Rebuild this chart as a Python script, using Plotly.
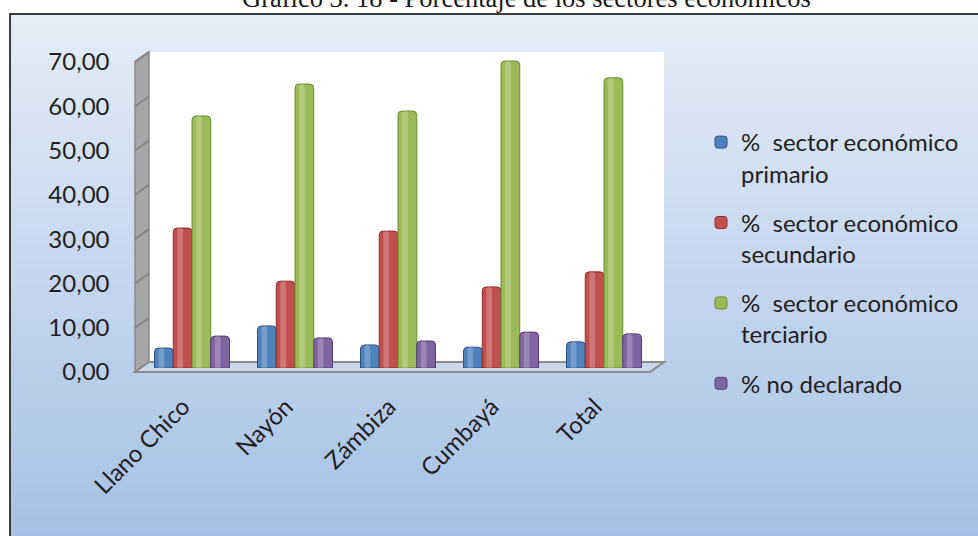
import plotly.graph_objects as go

# ---- data -------------------------------------------------------------
categorias = ["Llano Chico", "Nayón", "Zámbiza", "Cumbayá", "Total"]
primario = [4.5, 9.5, 5.2, 4.7, 5.9]
secundario = [31.6, 19.6, 30.9, 18.3, 21.7]
terciario = [56.9, 64.1, 58.0, 69.3, 65.5]
no_declarado = [7.2, 6.8, 6.1, 8.1, 7.7]
nombres = [
    "%\u00a0 sector económico<br>primario",
    "%\u00a0 sector económico<br>secundario",
    "%\u00a0 sector económico<br>terciario",
    "% no declarado",
]
y_ticks = [0, 10, 20, 30, 40, 50, 60, 70]
titulo = "Gráfico 3. 18 - Porcentaje de los sectores económicos"

# ---- page geometry (pixels) --------------------------------------------
W, H = 978, 536
YMAX = 70
S = 4.43                      # pixels per unit on the value axis
BACK_X0, BACK_X1, BACK_Y0 = 149, 664, 362   # back wall
DX, DY = -14, 10                             # depth offset towards the viewer
BAR_X0, BAR_X1, BAR_Y0 = 140.5, 655.5, 368  # mid-depth plane of the columns


def px(x):
    return x / W


def py(y):
    return 1 - y / H


colores = ["#4f81bd", "#c0504d", "#9bbb59", "#8064a2"]
bordes = ["#2c5283", "#8c2d2a", "#6b8a30", "#563f78"]
series = [primario, secundario, terciario, no_declarado]

FONT = "Lato"
TXT = "#1f1f1f"

fig = go.Figure()

# columns: four per category, touching each other
ancho = 0.182
inicio = -2 * ancho
for i, (vals, nombre, c, b) in enumerate(zip(series, nombres, colores, bordes)):
    off = inicio + i * ancho
    fig.add_trace(go.Bar(
        x=categorias, y=vals, name=nombre, legendgroup=f"g{i}",
        offset=off, width=ancho,
        marker=dict(color=c, line=dict(color=b, width=1)),
        hovertemplate="%{x}: %{y:.2f}<extra></extra>",
    ))
    # soft highlight giving the columns a rounded look
    fig.add_trace(go.Bar(
        x=categorias, y=vals, name=nombre, legendgroup=f"g{i}", showlegend=False,
        offset=off + ancho * 0.22, width=ancho * 0.3,
        marker=dict(color="rgba(255,255,255,0.22)", line=dict(width=0)),
        hoverinfo="skip",
    ))

shapes = []

# chart area background: vertical gradient
top_c = (228, 236, 247)
bot_c = (166, 193, 229)
n = 64
y_top, y_bot = 14, H + 4
for k in range(n):
    t = k / (n - 1)
    c = tuple(round(top_c[j] + (bot_c[j] - top_c[j]) * t) for j in range(3))
    ya = y_top + (y_bot - y_top) * k / n
    yb = y_top + (y_bot - y_top) * (k + 1) / n + 1
    shapes.append(dict(type="rect", xref="paper", yref="paper", layer="below",
                       x0=px(10), x1=px(W + 10), y0=py(ya), y1=py(yb),
                       fillcolor="rgb(%d,%d,%d)" % c, line=dict(width=0)))
# chart area frame
shapes.append(dict(type="rect", xref="paper", yref="paper", layer="below",
                   x0=px(10), x1=px(W + 10), y0=py(14), y1=py(H + 10),
                   fillcolor="rgba(0,0,0,0)", line=dict(color="#3c3c3c", width=2)))

back_top = BACK_Y0 - YMAX * S
# back wall
shapes.append(dict(type="rect", xref="paper", yref="paper", layer="below",
                   x0=px(BACK_X0), x1=px(BACK_X1), y0=py(BACK_Y0), y1=py(back_top),
                   fillcolor="white", line=dict(width=0)))


def path(pts):
    return "M" + " L".join("%.5f,%.5f" % (px(x), py(y)) for x, y in pts) + " Z"


# left side wall
shapes.append(dict(type="path", xref="paper", yref="paper", layer="below",
                   path=path([(BACK_X0, back_top), (BACK_X0, BACK_Y0),
                              (BACK_X0 + DX, BACK_Y0 + DY), (BACK_X0 + DX, back_top + DY)]),
                   fillcolor="#a6a6a6", line=dict(color="#8a8a8a", width=1.5)))
for v in y_ticks:
    yb = BACK_Y0 - v * S
    shapes.append(dict(type="line", xref="paper", yref="paper", layer="below",
                       x0=px(BACK_X0 + DX), y0=py(yb + DY), x1=px(BACK_X0), y1=py(yb),
                       line=dict(color="#858585", width=2)))
# floor
shapes.append(dict(type="path", xref="paper", yref="paper", layer="below",
                   path=path([(BACK_X0, BACK_Y0), (BACK_X1, BACK_Y0),
                              (BACK_X1 + DX, BACK_Y0 + DY), (BACK_X0 + DX, BACK_Y0 + DY)]),
                   fillcolor="#c9d7ea", line=dict(color="#8a8a8a", width=2)))

fig.update_layout(
    template="none",
    width=W, height=H,
    margin=dict(l=0, r=0, t=0, b=0, pad=0, autoexpand=False),
    paper_bgcolor="white",
    plot_bgcolor="rgba(0,0,0,0)",
    separators=",.",
    barmode="overlay",
    barcornerradius=4,
    shapes=shapes,
    font=dict(family=FONT, color=TXT, size=24),
    showlegend=True,
    legend=dict(
        x=px(701), y=py(120), xanchor="left", yanchor="top",
        bgcolor="rgba(0,0,0,0)", borderwidth=0,
        traceorder="grouped", tracegroupgap=15, valign="top",
        font=dict(family=FONT, size=24, color=TXT),
    ),
    # columns and category labels
    xaxis=dict(domain=[px(BAR_X0), px(BAR_X1)], anchor="y",
               type="category", categoryorder="array", categoryarray=categorias,
               tickangle=-45, ticks="", showline=False, showgrid=False,
               zeroline=False, automargin=False,
               ticklabelstandoff=19, ticklabelshift=-9, fixedrange=True,
               tickfont=dict(family=FONT, size=24, color=TXT)),
    # value axis; labels sit on the front edge of the side wall
    yaxis=dict(domain=[py(BAR_Y0), py(BAR_Y0 - YMAX * S)], anchor="x",
               range=[0, YMAX], tickvals=y_ticks, tickformat=".2f",
               showgrid=False, zeroline=False, showline=False, ticks="",
               automargin=False, ticklabelstandoff=30, ticklabelshift=4,
               fixedrange=True,
               tickfont=dict(family=FONT, size=24, color=TXT)),
    # back wall grid
    xaxis2=dict(domain=[px(BACK_X0), px(BACK_X1)], anchor="y2",
                range=[0, 1], visible=False, automargin=False, fixedrange=True),
    yaxis2=dict(domain=[py(BACK_Y0), py(back_top)], anchor="x2",
                range=[0, YMAX], tickvals=y_ticks, showticklabels=False,
                showgrid=True, gridcolor="#8a8a8a", gridwidth=2.5,
                zeroline=False, showline=False, ticks="", automargin=False,
                fixedrange=True),
    annotations=[dict(
        text=titulo, xref="paper", yref="paper", x=px(526), y=py(14),
        xanchor="center", yanchor="bottom", showarrow=False, yshift=-1,
        font=dict(family="Liberation Serif", size=26.5, color="#1a1a1a"),
    )],
)

fig.write_html("out.html")
